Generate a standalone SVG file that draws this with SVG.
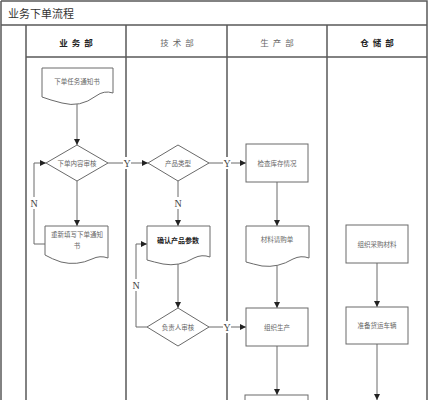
<svg xmlns="http://www.w3.org/2000/svg" width="429" height="400" viewBox="0 0 429 400">
<style>
.frame{fill:none;stroke:#5a5a5a;stroke-width:1.5}
.shape{fill:#fff;stroke:#6a6a6a;stroke-width:1}
.conn{fill:none;stroke:#6a6a6a;stroke-width:1}
.t{font-family:"Noto Sans CJK SC",sans-serif;font-size:6.5px;fill:#666;text-anchor:middle;dominant-baseline:central}
.tb{font-family:"Noto Sans CJK SC",sans-serif;font-size:7px;fill:#222;font-weight:bold;text-anchor:middle;dominant-baseline:central}
.hd{font-family:"Noto Sans CJK SC",sans-serif;font-size:8.5px;fill:#666;text-anchor:middle;dominant-baseline:central;letter-spacing:4px}
.hdb{font-family:"Noto Sans CJK SC",sans-serif;font-size:8.5px;fill:#222;font-weight:bold;text-anchor:middle;dominant-baseline:central;letter-spacing:4px}
.lbl{font-family:"Liberation Serif",serif;font-size:10px;fill:#444;text-anchor:middle;dominant-baseline:central}
.bg{fill:#fff}
</style>
<defs>
<marker id="arr" markerUnits="userSpaceOnUse" markerWidth="6" markerHeight="6" refX="6" refY="3" orient="auto">
<path d="M0,0 L6,3 L0,6 z" fill="#222"/>
</marker>
</defs>
<rect width="429" height="400" fill="#fff"/>
<g id="frame">
<path class="frame" d="M1,1 H427 V400 M1,1 V400 M1,25 H427 M26,25 V400 M126,25 V400 M227,25 V400 M327,25 V400 M26,57 H427"/>
<text x="8" y="13" style="font-family:'Noto Sans CJK SC',sans-serif;font-size:11px;fill:#333;dominant-baseline:central">业务下单流程</text>
<text class="hdb" x="78" y="42">业务部</text>
<text class="hd" x="179" y="42">技术部</text>
<text class="hd" x="279" y="42">生产部</text>
<text class="hdb" x="379" y="42">仓储部</text>
</g>
<g id="connectors">
<path class="conn" d="M77,101 V145" marker-end="url(#arr)"/>
<path class="conn" d="M108,163 H148" marker-end="url(#arr)"/>
<path class="conn" d="M209,163 H246" marker-end="url(#arr)"/>
<path class="conn" d="M77,181 V226" marker-end="url(#arr)"/>
<path class="conn" d="M45,244 H34 V163 H46" marker-end="url(#arr)"/>
<path class="conn" d="M178,181 V226" marker-end="url(#arr)"/>
<path class="conn" d="M178,264 V308" marker-end="url(#arr)"/>
<path class="conn" d="M147,327 H136 V244 H147" marker-end="url(#arr)"/>
<path class="conn" d="M209,327 H246" marker-end="url(#arr)"/>
<path class="conn" d="M277,182 V226" marker-end="url(#arr)"/>
<path class="conn" d="M277,264 V308" marker-end="url(#arr)"/>
<path class="conn" d="M277,346 V395" marker-end="url(#arr)"/>
<path class="conn" d="M377,263 V307" marker-end="url(#arr)"/>
<path class="conn" d="M377,344 V400" marker-end="url(#arr)"/>
<rect class="bg" x="123" y="157" width="8" height="12"/><text class="lbl" x="127" y="163">Y</text>
<rect class="bg" x="223" y="157" width="8" height="12"/><text class="lbl" x="227" y="163">Y</text>
<rect class="bg" x="223" y="321" width="8" height="12"/><text class="lbl" x="227" y="327">Y</text>
<rect class="bg" x="30" y="197" width="8" height="12"/><text class="lbl" x="34" y="203">N</text>
<rect class="bg" x="174" y="197" width="8" height="12"/><text class="lbl" x="178" y="203">N</text>
<rect class="bg" x="132" y="279" width="8" height="12"/><text class="lbl" x="136" y="285">N</text>
</g>
<g id="n1">
<path class="shape" d="M42,68 H113 V93 Q104,90 96,96 Q80,108 62,103 Q50,100 42,97 Z"/>
<text class="t" x="77" y="81">下单任务通知书</text>
</g>
<g id="n2">
<path class="shape" d="M46,163 L77,145 L108,163 L77,181 Z"/>
<text class="t" x="77" y="163">下单内容审核</text>
</g>
<g id="n3">
<path class="shape" d="M148,163 L178,145 L209,163 L178,181 Z"/>
<text class="t" x="178" y="163">产品类型</text>
</g>
<g id="n4">
<rect class="shape" x="246" y="144" width="62" height="38"/>
<text class="t" x="277" y="163">检查库存情况</text>
</g>
<g id="n5">
<path class="shape" d="M45,226 H108 V258 Q100,255 92,259 Q77,266 61,262 Q52,259 45,255 Z"/>
<text class="t" x="77" y="234">重新填写下单通知</text>
<text class="t" x="77" y="245">书</text>
</g>
<g id="n6">
<path class="shape" d="M147,226 H210 V257 Q202,254 194,258 Q179,267 163,264 Q154,262 147,260 Z"/>
<text class="tb" x="178" y="240">确认产品参数</text>
</g>
<g id="n7">
<path class="shape" d="M246,226 H309 V258 Q301,255 293,259 Q278,268 262,266 Q253,264 246,262 Z"/>
<text class="t" x="277" y="239">材料请购单</text>
</g>
<g id="n8">
<path class="shape" d="M147,327 L178,308 L209,327 L178,346 Z"/>
<text class="t" x="178" y="327">负责人审核</text>
</g>
<g id="n9">
<rect class="shape" x="246" y="308" width="62" height="38"/>
<text class="t" x="277" y="327">组织生产</text>
</g>
<g id="n10">
<rect class="shape" x="346" y="225" width="62" height="38"/>
<text class="t" x="377" y="244">组织采购材料</text>
</g>
<g id="n11">
<rect class="shape" x="346" y="307" width="62" height="37"/>
<text class="t" x="377" y="325">准备货运车辆</text>
</g>
<g id="n12">
<rect class="shape" x="245" y="395" width="63" height="10"/>
</g>
</svg>
